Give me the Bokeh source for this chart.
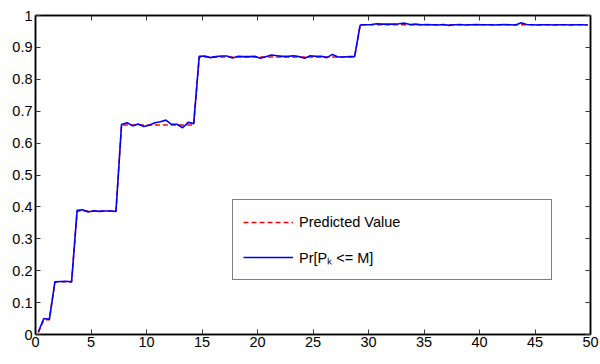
from bokeh.plotting import figure
from bokeh.models import LinearAxis, FixedTicker, Legend, LegendItem, Label, Range1d
from bokeh.embed import file_html
from bokeh.resources import INLINE

# ---------------- data ----------------
M = [0.25, 0.75, 1.25, 1.75, 2.25, 2.75, 3.25, 3.75, 4.25, 4.75,
     5.25, 5.75, 6.25, 6.75, 7.25, 7.75, 8.25, 8.75, 9.25, 9.75,
     10.25, 10.75, 11.25, 11.75, 12.25, 12.75, 13.25, 13.75, 14.25, 14.75,
     15.25, 15.75, 16.25, 16.75, 17.25, 17.75, 18.25, 18.75, 19.25, 19.75,
     20.25, 20.75, 21.25, 21.75, 22.25, 22.75, 23.25, 23.75, 24.25, 24.75,
     25.25, 25.75, 26.25, 26.75, 27.25, 27.75, 28.25, 28.75, 29.25, 29.75,
     30.25, 30.75, 31.25, 31.75, 32.25, 32.75, 33.25, 33.75, 34.25, 34.75,
     35.25, 35.75, 36.25, 36.75, 37.25, 37.75, 38.25, 38.75, 39.25, 39.75,
     40.25, 40.75, 41.25, 41.75, 42.25, 42.75, 43.25, 43.75, 44.25, 44.75,
     45.25, 45.75, 46.25, 46.75, 47.25, 47.75, 48.25, 48.75, 49.25, 49.75]

predicted = [0.006, 0.046, 0.046, 0.165, 0.165, 0.165, 0.165, 0.387, 0.387, 0.387,
             0.387, 0.387, 0.387, 0.387, 0.387, 0.657, 0.657, 0.657, 0.657, 0.657,
             0.657, 0.657, 0.657, 0.657, 0.657, 0.657, 0.657, 0.657, 0.657, 0.870,
             0.870, 0.870, 0.870, 0.870, 0.870, 0.870, 0.870, 0.870, 0.870, 0.870,
             0.870, 0.870, 0.870, 0.870, 0.870, 0.870, 0.870, 0.870, 0.870, 0.870,
             0.870, 0.870, 0.870, 0.870, 0.870, 0.870, 0.870, 0.870, 0.971, 0.971,
             0.971, 0.971, 0.971, 0.971, 0.971, 0.971, 0.971, 0.971, 0.971, 0.971,
             0.971, 0.971, 0.971, 0.971, 0.971, 0.971, 0.971, 0.971, 0.971, 0.971,
             0.971, 0.971, 0.971, 0.971, 0.971, 0.971, 0.971, 0.971, 0.971, 0.971,
             0.971, 0.971, 0.971, 0.971, 0.971, 0.971, 0.971, 0.971, 0.971, 0.971]

pr_le_M = [0.008, 0.050, 0.048, 0.165, 0.166, 0.167, 0.165, 0.389, 0.391, 0.384,
           0.388, 0.386, 0.387, 0.387, 0.386, 0.658, 0.664, 0.654, 0.660, 0.652,
           0.656, 0.664, 0.667, 0.672, 0.659, 0.659, 0.648, 0.665, 0.661, 0.872,
           0.873, 0.868, 0.871, 0.873, 0.873, 0.867, 0.872, 0.871, 0.871, 0.872,
           0.866, 0.871, 0.876, 0.874, 0.872, 0.872, 0.874, 0.871, 0.866, 0.874,
           0.872, 0.872, 0.868, 0.878, 0.870, 0.870, 0.871, 0.871, 0.970, 0.971,
           0.972, 0.974, 0.973, 0.973, 0.973, 0.974, 0.976, 0.972, 0.973, 0.971,
           0.972, 0.971, 0.970, 0.972, 0.969, 0.971, 0.972, 0.970, 0.971, 0.972,
           0.971, 0.971, 0.970, 0.971, 0.972, 0.971, 0.970, 0.977, 0.972, 0.971,
           0.970, 0.971, 0.971, 0.970, 0.971, 0.971, 0.970, 0.971, 0.971, 0.970]

x_ticks = [0, 5, 10, 15, 20, 25, 30, 35, 40, 45, 50]
x_tick_labels = ["0", "5", "10", "15", "20", "25", "30", "35", "40", "45", "50"]
y_ticks = [0, 0.1, 0.2, 0.3, 0.4, 0.5, 0.6, 0.7, 0.8, 0.9, 1]
y_tick_labels = ["0", "0.1", "0.2", "0.3", "0.4", "0.5", "0.6", "0.7", "0.8", "0.9", "1"]
legend_labels = ["Predicted Value", "Pr[P\u2096 <= M]"]
x_label = "M"

FONT = "Liberation Sans"
FSIZE = "14.5px"

p = figure(width=600, height=364, x_range=Range1d(0, 50), y_range=Range1d(0, 1),
           x_axis_type=None, y_axis_type=None,
           output_backend="svg", toolbar_location=None,
           min_border_left=35, min_border_right=10, min_border_top=15, min_border_bottom=30)
p.outline_line_color = "black"
p.outline_line_width = 1.5
p.background_fill_color = "white"
p.border_fill_color = "white"


def make_axis(ticks, labels, show):
    ax = LinearAxis(ticker=FixedTicker(ticks=ticks, minor_ticks=[]),
                    major_label_overrides={t: (l if show else "") for t, l in zip(ticks, labels)})
    ax.axis_line_color = "black"
    ax.axis_line_width = 1.5
    ax.major_tick_in = 5
    ax.major_tick_out = 0
    ax.major_tick_line_color = "#333333"
    ax.major_tick_line_width = 1
    ax.minor_tick_line_color = None
    ax.major_label_text_font = FONT
    ax.major_label_text_color = "black"
    ax.major_label_text_font_size = FSIZE if show else "0px"
    ax.major_label_standoff = 3 if show else 0
    return ax


bottom_axis = make_axis(x_ticks, x_tick_labels, True)
bottom_axis.major_label_standoff = 2
p.add_layout(bottom_axis, "below")
p.add_layout(make_axis(y_ticks, y_tick_labels, True), "left")
p.add_layout(make_axis(x_ticks, x_tick_labels, False), "above")
p.add_layout(make_axis(y_ticks, y_tick_labels, False), "right")

r_pred = p.line(M, predicted, line_color="#ff0000", line_width=1.5, line_dash="5 3")
r_pr = p.line(M, pr_le_M, line_color="#0000ff", line_width=1.6)

legend = Legend(items=[LegendItem(label=legend_labels[0], renderers=[r_pred]),
                       LegendItem(label=legend_labels[1], renderers=[r_pr])],
                location=(197, 54), orientation="vertical",
                border_line_color="black", border_line_width=1.5,
                background_fill_color="white", background_fill_alpha=1.0,
                padding=10, spacing=11, margin=0,
                glyph_width=50, glyph_height=24, label_height=24,
                label_standoff=6, label_width=242,
                label_text_font=FONT, label_text_font_size=FSIZE, label_text_color="black")
p.add_layout(legend, "center")

p.add_layout(Label(x=25, y=-0.050, text=x_label, text_align="center", text_baseline="top",
                   text_font=FONT, text_font_size="12.5px", text_color="black"))

open("out.html", "w").write(file_html(p, INLINE))
